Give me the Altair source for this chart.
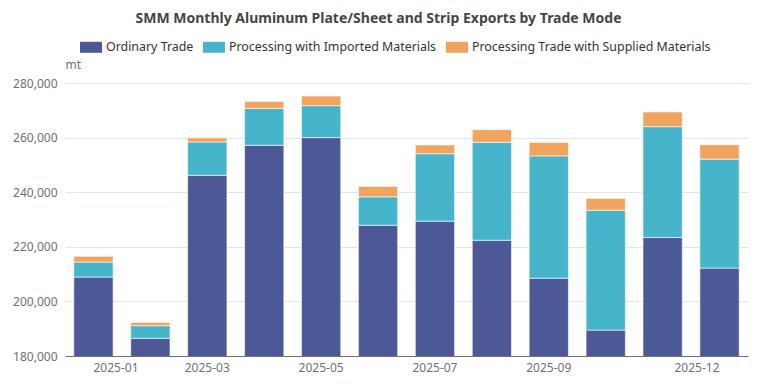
import altair as alt
import pandas as pd

months = ["2025-01", "2025-02", "2025-03", "2025-04", "2025-05", "2025-06",
          "2025-07", "2025-08", "2025-09", "2025-10", "2025-11", "2025-12"]
series = ["Ordinary Trade", "Processing with Imported Materials",
          "Processing Trade with Supplied Materials"]
ordinary = [208900, 186500, 246200, 257200, 260000, 227900,
            229400, 222400, 208500, 189500, 223400, 212200]
imported = [5500, 4600, 12200, 13500, 11700, 10400,
            24700, 35900, 44800, 43900, 40600, 39900]
supplied = [2100, 1200, 1500, 2500, 3500, 3800,
            3200, 4600, 4900, 4300, 5400, 5300]
colors = ["#4d5897", "#46b4cb", "#f0a45e"]
shown_labels = ["2025-01", "2025-03", "2025-05", "2025-07", "2025-09", "2025-12"]

rows = []
for i, m in enumerate(months):
    for k, (s, vals) in enumerate(zip(series, [ordinary, imported, supplied])):
        rows.append({"month": m, "type": s, "value": vals[i], "order": k})
df = pd.DataFrame(rows)

FONT = "Noto Sans"
label_list = "[" + ",".join("'" + l + "'" for l in shown_labels) + "]"

chart = alt.Chart(df).mark_bar(clip=True, stroke="white", strokeWidth=0.6).encode(
    x=alt.X("month:N", sort=months,
            scale=alt.Scale(paddingInner=0.31, paddingOuter=0.155),
            axis=alt.Axis(title=None, labelAngle=0, ticks=False,
                          domainColor="#6E7079", labelColor="#6E7079",
                          labelFontSize=12, labelPadding=6, labelFont=FONT,
                          grid=False,
                          labelExpr="indexof(" + label_list + ", datum.value) >= 0 ? datum.value : ''",
                          labelAlign=alt.expr("datum.value == '2025-01' ? 'left' : (datum.value == '2025-12' ? 'right' : 'center')"))),
    y=alt.Y("value:Q", stack="zero",
            scale=alt.Scale(domain=[180000, 280000], nice=False, zero=False),
            axis=alt.Axis(title="mt", titleAngle=0, titleAlign="left",
                          titleBaseline="bottom", titleX=0, titleY=-12,
                          titleFontWeight="normal", titleFontSize=12,
                          titleColor="#6E7079", titleFont=FONT,
                          values=[180000, 200000, 220000, 240000, 260000, 280000],
                          format=",.0f", labelColor="#6E7079", labelFontSize=12,
                          labelFont=FONT, labelPadding=8, ticks=False,
                          domain=False, gridColor="#E0E6F1")),
    color=alt.Color("type:N", sort=series,
                    scale=alt.Scale(domain=series, range=colors),
                    legend=alt.Legend(title=None, orient="none", direction="horizontal",
                                      legendX=15, legendY=-47,
                                      symbolType="M-1,-0.5H1V0.5H-1Z",
                                      symbolSize=484, symbolStrokeWidth=0,
                                      labelFontSize=12.4, labelColor="#333333",
                                      labelFont=FONT, columnPadding=9,
                                      labelLimit=400)),
    order=alt.Order("order:Q", sort="ascending"),
).properties(
    width=683, height=273,
    title=alt.TitleParams("SMM Monthly Aluminum Plate/Sheet and Strip Exports by Trade Mode",
                          fontSize=14, fontWeight="bold", color="#464646", font=FONT,
                          anchor="middle", dx=-28, offset=10),
    autosize=alt.AutoSizeParams(type="none"),
    padding={"left": 57, "top": 75, "right": 1, "bottom": 22},
).configure_view(stroke=None)

chart.save("out.html", embed_options={"renderer": "svg", "actions": False})
